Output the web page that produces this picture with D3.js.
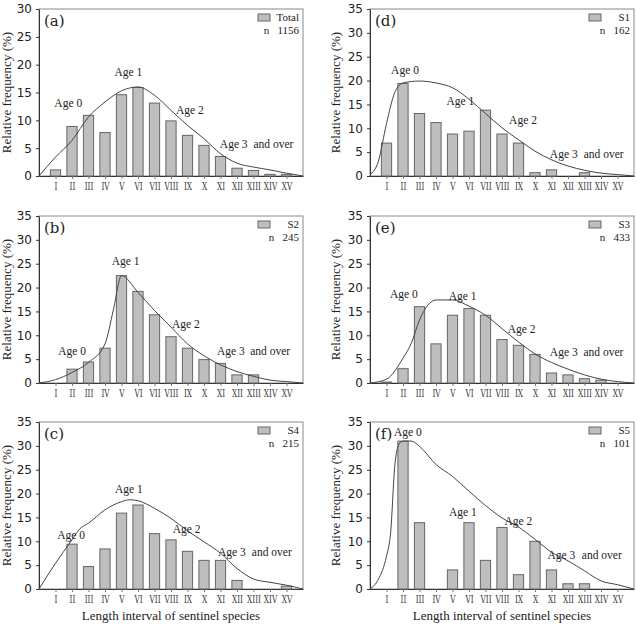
<!DOCTYPE html>
<html>
<head>
<meta charset="utf-8">
<script src="https://cdn.jsdelivr.net/npm/d3@7"></script>
<style>
body{margin:0;background:#fff;}
svg{display:block;}
</style>
</head>
<body>
<script>
var categories=['I','II','III','IV','V','VI','VII','VIII','IX','X','XI','XII','XIII','XIV','XV'];
var yTicks30=[0,5,10,15,20,25,30];
var yTicks35=[0,5,10,15,20,25,30,35];

// bar values (%) per length interval
var totalValues=[1.1,8.9,10.9,7.8,14.6,15.9,13.1,9.9,7.3,5.5,3.5,1.4,1.0,0.3,0.3];
var s1Values=[6.9,19.4,13.1,11.2,8.8,9.4,13.8,8.8,6.9,0.7,1.3,0,0.7,0,0];
var s2Values=[0,2.9,4.4,7.3,22.5,19.2,14.3,9.7,7.3,4.9,4.1,1.7,1.7,0,0];
var s3Values=[0.2,3.0,16.0,8.2,14.2,15.6,14.2,9.1,7.9,6.0,2.1,1.7,0.9,0.6,0];
var s4Values=[0,9.4,4.7,8.4,15.9,17.6,11.6,10.3,7.9,6.0,6.0,1.8,0,0,0.6];
var s5Values=[0,31.0,13.9,0,4.0,13.9,6.0,12.9,3.0,10.0,4.0,1.1,1.1,0,0];

// fitted curves: [interval position, %], 0 = left frame, 16 = right frame
var totalCurve=[[0,0],[1,3.4],[2,6.4],[3,10.6],[4,13.3],[5,15.3],[6,16.0],[7,14.5],[8,11.8],[9,9.1],[10,6.7],[11,4.0],[12,2.3],[13,1.6],[14,1.1],[15,0.5],[16,0]];
var s1Curve=[[0,0.3],[0.5,3],[1,11],[1.5,17.5],[2,19.5],[3,19.9],[4,19.5],[5,18.5],[6,16.1],[7,13.1],[8,10.1],[9,7.6],[10,5.2],[11,3.4],[12,2.1],[13,1.2],[14,0.6],[15,0.3],[16,0]];
var s2Curve=[[0,0],[1,0.7],[2,2.2],[3,4.3],[4,8.2],[4.5,15.2],[5,22.5],[6,19.0],[7,15.2],[8,11.7],[9,8.2],[10,5.7],[11,3.8],[12,2.4],[13,1.4],[14,0.6],[15,0.3],[16,0]];
var s3Curve=[[0,0],[1,0.8],[2,5.2],[2.5,8.3],[3,13.2],[3.5,16.3],[4,17.4],[5,17.4],[6,16.1],[7,14.2],[8,11.4],[9,8.6],[10,6.1],[11,4.3],[12,2.9],[13,1.7],[14,0.8],[15,0.3],[16,0]];
var s4Curve=[[0,0],[1,5.4],[2,10.3],[2.5,12.7],[3,13.8],[4,16.6],[5,18.3],[5.5,18.7],[6,18.5],[7,16.9],[8,14.8],[9,12.2],[10,9.9],[11,7.5],[12,4.3],[13,2.1],[14,1.4],[15,0.8],[16,0]];
var s5Curve=[[0,0],[0.5,2],[1,6.9],[1.25,11.8],[1.5,25.7],[1.75,30.3],[2,31.0],[2.5,31.0],[3,29.9],[4,26.1],[5,23.6],[6,20.5],[7,17.5],[8,14.9],[9,13.0],[10,10.4],[11,7.7],[12,5.9],[13,3.8],[14,1.7],[15,0.9],[16,0]];

// age labels: [text, interval position of left edge, %]
var totalLabels=[['Age 0',0.93,12.4],['Age 1',4.57,17.9],['Age 2',8.3,11.2],['Age 3',10.96,5.0],['and over',13.0,5.0]];
var s1Labels=[['Age 0',1.28,21.3],['Age 1',4.63,14.8],['Age 2',8.43,10.8],['Age 3',10.9,3.8],['and over',12.95,3.8]];
var s2Labels=[['Age 0',1.17,5.9],['Age 1',4.41,24.8],['Age 2',8.06,11.5],['Age 3',10.79,5.9],['and over',12.8,5.9]];
var s3Labels=[['Age 0',1.21,17.9],['Age 1',4.77,17.5],['Age 2',8.35,10.5],['Age 3',10.9,5.6],['and over',12.94,5.6]];
var s4Labels=[['Age 0',1.11,10.5],['Age 1',4.6,20.2],['Age 2',8.1,11.8],['Age 3',10.85,6.9],['and over',12.9,6.9]];
var s5Labels=[['Age 0',1.45,32.0],['Age 1',4.79,15.3],['Age 2',8.15,13.5],['Age 3',10.76,6.3],['and over',12.84,6.3]];

var panels=[
    {tag:'(a)',name:'Total',n:1156,values:totalValues,curve:totalCurve,labels:totalLabels,ymax:30,ticks:yTicks30,col:0,row:0},
    {tag:'(d)',name:'S1',n:162,values:s1Values,curve:s1Curve,labels:s1Labels,ymax:35,ticks:yTicks35,col:1,row:0},
    {tag:'(b)',name:'S2',n:245,values:s2Values,curve:s2Curve,labels:s2Labels,ymax:35,ticks:yTicks35,col:0,row:1},
    {tag:'(e)',name:'S3',n:433,values:s3Values,curve:s3Curve,labels:s3Labels,ymax:35,ticks:yTicks35,col:1,row:1},
    {tag:'(c)',name:'S4',n:215,values:s4Values,curve:s4Curve,labels:s4Labels,ymax:35,ticks:yTicks35,col:0,row:2},
    {tag:'(f)',name:'S5',n:101,values:s5Values,curve:s5Curve,labels:s5Labels,ymax:35,ticks:yTicks35,col:1,row:2}
];

var width=637;
var height=625;
var colLeft=[39,370];
var rowTop=[9,216,422];
var plotW=264;
var plotH=167;
var serif="'DejaVu Serif','Liberation Serif',serif";
var narrowSerif="'Liberation Serif','Times New Roman',serif";

var svg=d3.select('body')
.append('svg')
.attr('width',width)
.attr('height',height);

panels.forEach(drawPanel);

function drawPanel(p){
    var g=svg.append('g')
    .attr('transform','translate('+colLeft[p.col]+','+rowTop[p.row]+')');

    var xScale=d3.scalePoint()
    .domain(categories)
    .range([0,plotW])
    .padding(1);

    var posScale=d3.scaleLinear()
    .domain([0,16])
    .range([0,plotW]);

    var yScale=d3.scaleLinear()
    .domain([0,p.ymax])
    .range([plotH,0]);

    var barW=xScale.step()*0.62;

    // frame
    g.append('rect')
    .attr('width',plotW)
    .attr('height',plotH)
    .style('fill','none')
    .style('stroke','#8a8a8a')
    .style('stroke-width',1);

    var yAxis=d3.axisLeft(yScale)
    .tickValues(p.ticks)
    .tickSizeInner(3)
    .tickSizeOuter(0)
    .tickPadding(4);

    var yg=g.append('g').call(yAxis);
    yg.select('.domain').style('stroke','#333');
    yg.selectAll('line').style('stroke','#333');
    yg.selectAll('text')
    .style('font-family',"'DejaVu Sans',sans-serif")
    .style('font-size','12px')
    .style('fill','#222');

    var xAxis=d3.axisBottom(xScale)
    .tickSizeInner(3)
    .tickSizeOuter(0)
    .tickPadding(4);

    var xg=g.append('g')
    .attr('transform','translate(0,'+plotH+')')
    .call(xAxis);
    xg.select('.domain').style('stroke','#333');
    xg.selectAll('line').style('stroke','#777');
    xg.selectAll('text')
    .attr('transform','scale(0.7,1)')
    .style('font-family',serif)
    .style('font-size','10.5px')
    .style('fill','#333');

    g.selectAll('.bar')
    .data(p.values)
    .enter()
    .append('rect')
    .attr('class','bar')
    .attr('x',(d,i)=>xScale(categories[i])-barW/2)
    .attr('y',(d)=>yScale(d))
    .attr('width',barW)
    .attr('height',(d)=>plotH-yScale(d))
    .style('fill','#bebebe')
    .style('stroke','#666')
    .style('stroke-width',1)
    .style('display',(d)=>d>0?null:'none');

    var line=d3.line()
    .x((d)=>posScale(d[0]))
    .y((d)=>yScale(d[1]))
    .curve(d3.curveMonotoneX);

    g.append('path')
    .datum(p.curve)
    .attr('d',line)
    .style('fill','none')
    .style('stroke','#444')
    .style('stroke-width',1);

    g.selectAll('.age')
    .data(p.labels)
    .enter()
    .append('text')
    .attr('class','age')
    .attr('x',(d)=>posScale(d[1]))
    .attr('y',(d)=>yScale(d[2]))
    .text((d)=>d[0])
    .style('font-family',narrowSerif)
    .style('font-size','11.5px')
    .style('fill','#222');

    g.append('text')
    .attr('x',5)
    .attr('y',17)
    .text(p.tag)
    .style('font-family',serif)
    .style('font-size','15px')
    .style('fill','#222');

    // legend
    g.append('rect')
    .attr('x',plotW-45)
    .attr('y',5)
    .attr('width',12)
    .attr('height',7)
    .style('fill','#bebebe')
    .style('stroke','#666');

    g.append('text')
    .attr('x',plotW-4)
    .attr('y',12)
    .attr('text-anchor','end')
    .text(p.name)
    .style('font-family',narrowSerif)
    .style('font-size','11px')
    .style('fill','#222');

    g.append('text')
    .attr('x',plotW-4)
    .attr('y',25)
    .attr('text-anchor','end')
    .text('n\u2002 '+p.n)
    .style('font-family',narrowSerif)
    .style('font-size','11px')
    .style('fill','#222');

    g.append('text')
    .attr('transform','translate('+(p.col==0?-28:-30)+','+(plotH/2)+') rotate(-90)')
    .attr('text-anchor','middle')
    .text('Relative frequency (%)')
    .style('font-family',narrowSerif)
    .style('font-size','13px')
    .style('fill','#222');

    if(p.row==2){
        g.append('text')
        .attr('x',plotW/2)
        .attr('y',plotH+31)
        .attr('text-anchor','middle')
        .text('Length interval of sentinel species')
        .style('font-family',narrowSerif)
        .style('font-size','13px')
        .style('fill','#222');
    }
}
</script>
</body>
</html>
